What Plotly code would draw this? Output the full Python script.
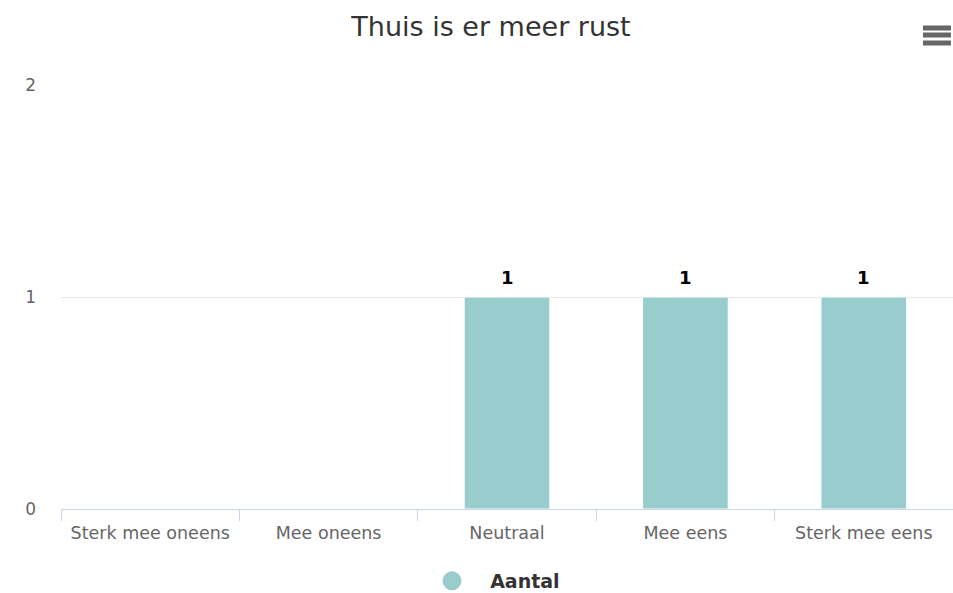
import plotly.graph_objects as go

# Survey answers for the statement and how many respondents chose each
categories = ["Sterk mee oneens", "Mee oneens", "Neutraal", "Mee eens", "Sterk mee eens"]
counts = [0, 0, 1, 1, 1]
series_name = "Aantal"
title_text = "Thuis is er meer rust"
y_ticks = [0, 1, 2]

bar_color = "#99CCCC"
font_family = "DejaVu Sans"

W, H = 953, 593
ML, MR, MT, MB = 61, 0, 85, 84

fig = go.Figure()

fig.add_trace(go.Bar(
    x=categories,
    y=counts,
    marker=dict(color=bar_color, line=dict(color="white", width=1)),
    showlegend=False,
    hoverinfo="x+y",
))

# Value labels above the non-empty bars
for cat, val in zip(categories, counts):
    if val:
        fig.add_annotation(
            x=cat, y=val, xref="x", yref="y",
            text=f"<b>{val}</b>", showarrow=False,
            yanchor="bottom", yshift=7,
            font=dict(family=font_family, size=18, color="black"),
        )

# Legend entry drawn with a round marker
fig.add_trace(go.Scatter(
    x=[None], y=[None],
    mode="markers",
    marker=dict(symbol="circle", size=16, color=bar_color,
                line=dict(color=bar_color, width=3)),
    name=f"\u00a0\u00a0\u00a0<b>{series_name}</b>",
    showlegend=True,
))

# Export-menu glyph in the top right corner
for yc in (28, 35, 43):
    fig.add_shape(
        type="rect", xref="paper", yref="paper",
        x0=(923 - ML) / (W - ML - MR), x1=(951 - ML) / (W - ML - MR),
        y0=(H - MB - (yc + 2.5)) / (H - MT - MB), y1=(H - MB - (yc - 2.5)) / (H - MT - MB),
        fillcolor="#666666", line=dict(width=0), layer="above",
    )

fig.update_layout(
    width=W, height=H,
    margin=dict(l=ML, r=MR, t=MT, b=MB, autoexpand=False),
    paper_bgcolor="white",
    plot_bgcolor="white",
    font=dict(family=font_family, color="#666666"),
    title=dict(
        text=title_text,
        x=491 / W, xref="container", xanchor="center",
        y=1 - 27 / H, yref="container", yanchor="middle",
        font=dict(family=font_family, size=27, color="#333333"),
    ),
    bargap=0.52,
    showlegend=True,
    legend=dict(
        orientation="h",
        x=(432 - ML) / (W - ML - MR), xanchor="left",
        y=12 / H, yref="container", yanchor="middle",
        font=dict(family=font_family, size=19, color="#333333"),
        itemsizing="trace",
        borderwidth=0,
    ),
    xaxis=dict(
        type="category",
        tickson="boundaries",
        ticks="outside",
        ticklen=11,
        tickcolor="#ccd6eb",
        tickwidth=1,
        showline=True,
        linecolor="#ccd6eb",
        linewidth=1,
        showgrid=False,
        ticklabelstandoff=8,
        tickfont=dict(family=font_family, size=17.5, color="#666666"),
        fixedrange=True,
    ),
    yaxis=dict(
        range=[0, 2],
        tickvals=y_ticks,
        showgrid=True,
        gridcolor="#e6e6e6",
        gridwidth=1,
        zeroline=False,
        showline=False,
        ticks="",
        ticklabelstandoff=24,
        tickfont=dict(family=font_family, size=17, color="#666666"),
        fixedrange=True,
    ),
)

fig.write_html("out.html", config={"displayModeBar": False})
